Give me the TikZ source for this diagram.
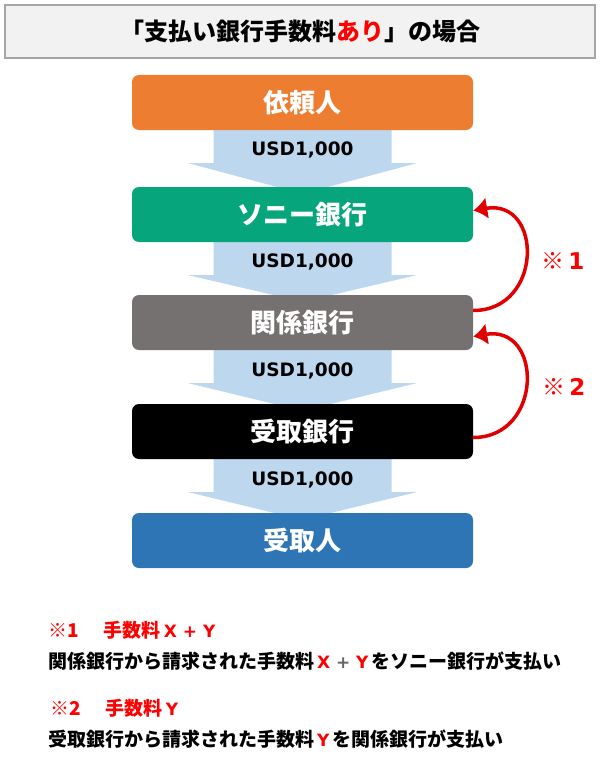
\documentclass[tikz,border=0pt]{standalone}
\usepackage{fontspec}
\setmainfont{DejaVu Sans}
\newfontfamily\cjk{Noto Sans CJK JP}
\usetikzlibrary{backgrounds}
\usetikzlibrary{arrows.meta}
\definecolor{client}{HTML}{ED7D31}
\definecolor{sonybank}{HTML}{07A57B}
\definecolor{corrbank}{HTML}{767171}
\definecolor{payee}{HTML}{2E75B6}
\definecolor{flow}{HTML}{BDD7EE}
\definecolor{fee}{HTML}{FF0000}
\definecolor{feeline}{HTML}{E00000}
\definecolor{titlefill}{HTML}{F2F2F2}

\begin{document}
\begin{tikzpicture}[x=1pt, y=-1pt,
	bank/.style={rounded corners=7pt, minimum width=341pt, minimum height=55pt, text=white, font=\cjk\bfseries\fontsize{26}{26}\selectfont},
	amount/.style={font=\bfseries\fontsize{18.5}{18.5}\selectfont},
	charge/.style={draw=feeline, line width=3.5pt, -{Latex[length=14pt,width=22pt]}},
	feemark/.style={text=fee, font=\bfseries\fontsize{23}{23}\selectfont},
	note/.style={anchor=west, inner sep=0pt, font=\cjk\bfseries\fontsize{19}{19}\selectfont}]
\useasboundingbox (0,0) rectangle (600,773);

\draw (300,31.5) node[draw=black!35, fill=titlefill, line width=1.5pt, minimum width=590pt, minimum height=53pt] (title)
	{\cjk\bfseries\fontsize{24}{24}\selectfont 「支払い銀行手数料{\color{fee}あり}」の場合};

\draw (302.5,102.5) node[bank, fill=client] (client) {依頼人};
\draw (302.5,214.5) node[bank, fill=sonybank] (sony bank) {ソニー銀行};
\draw (302.5,322.5) node[bank, fill=corrbank] (corr bank) {関係銀行};
\draw (302.5,431.5) node[bank, fill=black] (recv bank) {受取銀行};
\draw (302.5,540.5) node[bank, fill=payee] (payee) {受取人};

%%money flow
\begin{scope}[on background layer]
\fill[flow] ([xshift=-89pt]client.south) -- ([xshift=89pt]client.south) -- ([xshift=89pt,yshift=-33pt]client.south) -- ([xshift=114pt,yshift=-33pt]client.south)
	-- ([yshift=-7pt]sony bank.north) -- ([xshift=-114pt,yshift=-33pt]client.south) -- ([xshift=-89pt,yshift=-33pt]client.south) -- cycle;
\fill[flow] ([xshift=-89pt]sony bank.south) -- ([xshift=89pt]sony bank.south) -- ([xshift=89pt,yshift=-33pt]sony bank.south) -- ([xshift=114pt,yshift=-33pt]sony bank.south)
	-- ([yshift=-7pt]corr bank.north) -- ([xshift=-114pt,yshift=-33pt]sony bank.south) -- ([xshift=-89pt,yshift=-33pt]sony bank.south) -- cycle;
\fill[flow] ([xshift=-89pt]corr bank.south) -- ([xshift=89pt]corr bank.south) -- ([xshift=89pt,yshift=-33pt]corr bank.south) -- ([xshift=114pt,yshift=-33pt]corr bank.south)
	-- ([yshift=-7pt]recv bank.north) -- ([xshift=-114pt,yshift=-33pt]corr bank.south) -- ([xshift=-89pt,yshift=-33pt]corr bank.south) -- cycle;
\fill[flow] ([xshift=-89pt]recv bank.south) -- ([xshift=89pt]recv bank.south) -- ([xshift=89pt,yshift=-33pt]recv bank.south) -- ([xshift=114pt,yshift=-33pt]recv bank.south)
	-- ([yshift=-7pt]payee.north) -- ([xshift=-114pt,yshift=-33pt]recv bank.south) -- ([xshift=-89pt,yshift=-33pt]recv bank.south) -- cycle;
\end{scope}
\draw ([yshift=-20pt]client.south) node[amount] (amount 1) {USD1,000};
\draw ([yshift=-20pt]sony bank.south) node[amount] (amount 2) {USD1,000};
\draw ([yshift=-21pt]corr bank.south) node[amount] (amount 3) {USD1,000};
\draw ([yshift=-21pt]recv bank.south) node[amount] (amount 4) {USD1,000};

%%fees
\draw[charge] ([yshift=12pt]corr bank.east) .. controls +(70,0) and +(70,-12) .. ([yshift=4pt]sony bank.east);
\draw[charge] ([yshift=-6pt]recv bank.east) .. controls +(70,0) and +(70,-12) .. ([yshift=-14pt]corr bank.east);
\draw (563,261) node[feemark] (fee 1) {{\cjk ※}\,1};
\draw (564,387) node[feemark] (fee 2) {{\cjk ※}\,2};

%%notes
\draw (48,630) node[note, text=fee] (note 1 head) {※1\hspace{25pt}手数料\,{\rmfamily\bfseries\fontsize{17}{17}\selectfont X + Y}};
\draw (48,661) node[note] (note 1 body) {関係銀行から請求された手数料{\rmfamily\bfseries\fontsize{17}{17}\selectfont\color{fee}\,X {\color{black!60}+} Y\,}をソニー銀行が支払い};
\draw (50,708) node[note, text=fee] (note 2 head) {※2\hspace{25pt}手数料\,{\rmfamily\bfseries\fontsize{17}{17}\selectfont Y}};
\draw (48,739) node[note] (note 2 body) {受取銀行から請求された手数料{\rmfamily\bfseries\fontsize{17}{17}\selectfont\color{fee}\,Y\,}を関係銀行が支払い};
\end{tikzpicture}
\end{document}
